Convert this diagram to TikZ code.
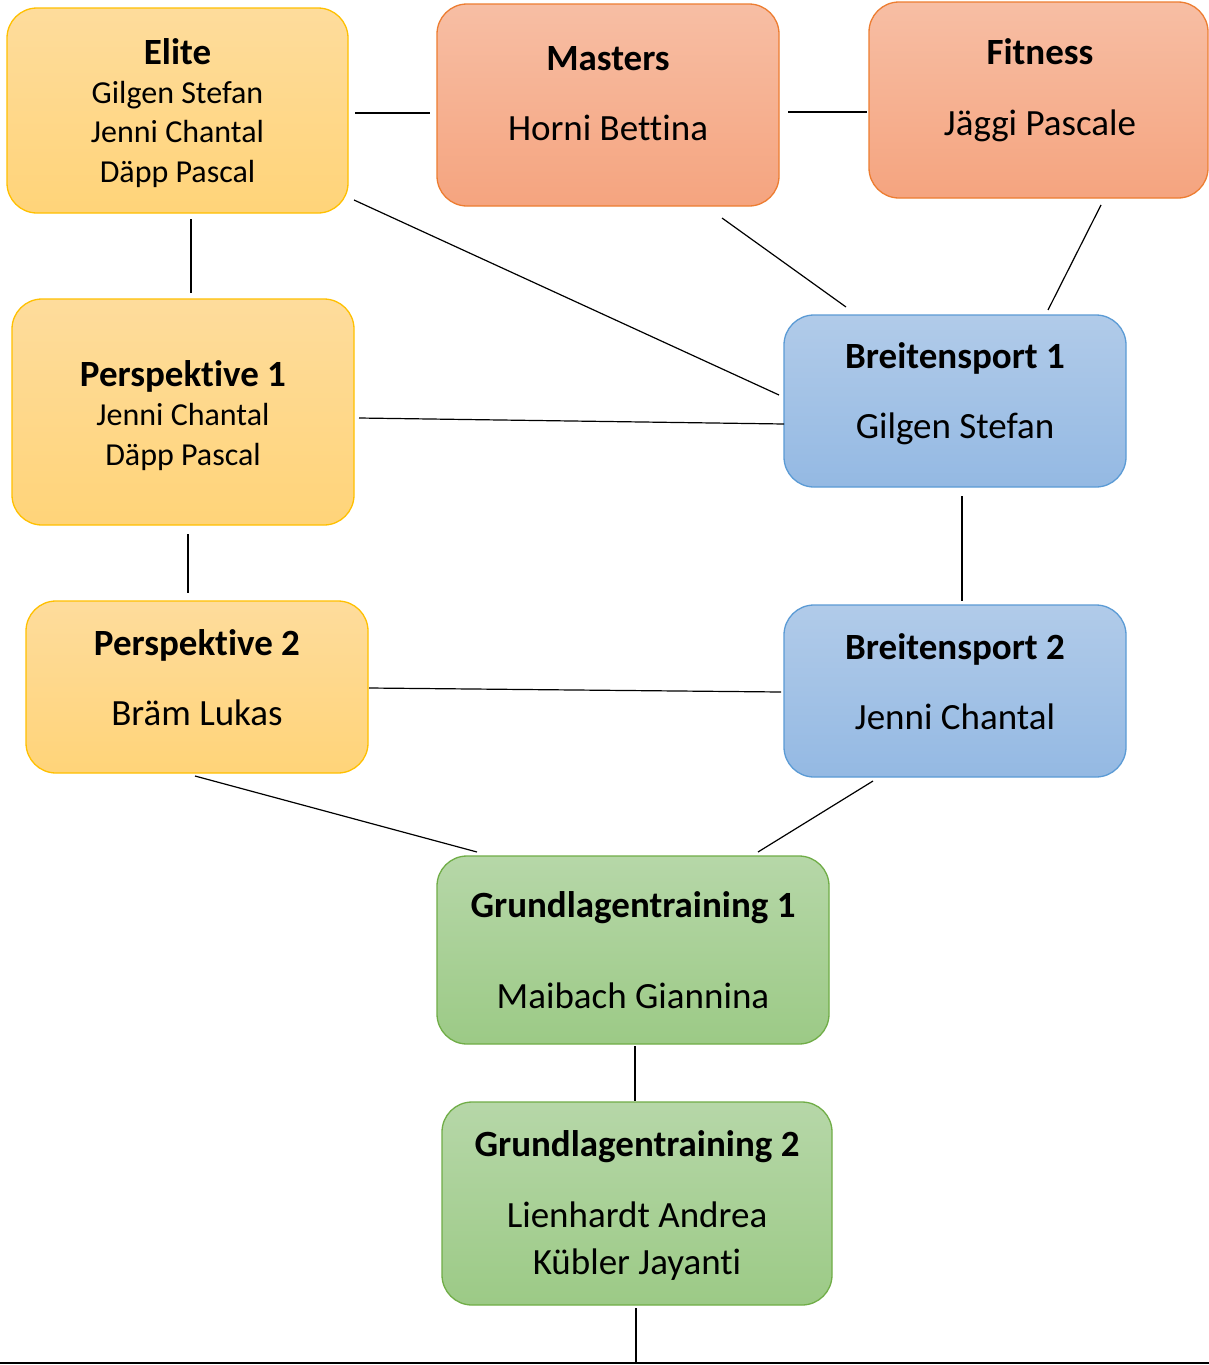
\documentclass[tikz,border=0pt]{standalone}
\usepackage{fontspec}
\setmainfont[Ligatures=NoCommon]{Carlito}
\definecolor{ytop}{HTML}{FEDC9C}
\definecolor{ybot}{HTML}{FFD479}
\definecolor{yline}{HTML}{FFC000}
\definecolor{otop}{HTML}{F7BEA4}
\definecolor{obot}{HTML}{F5A47F}
\definecolor{oline}{HTML}{ED7D31}
\definecolor{btop}{HTML}{B1CBE9}
\definecolor{bbot}{HTML}{94B9E3}
\definecolor{bline}{HTML}{5B9BD5}
\definecolor{gtop}{HTML}{B6D7A8}
\definecolor{gbot}{HTML}{9CCA86}
\definecolor{gline}{HTML}{70AD47}
\begin{document}
\begin{tikzpicture}[x=1pt,y=-1pt,
  box/.style={rounded corners=30pt, line width=1.3pt, inner sep=0pt, outer sep=0pt},
  ybox/.style={box, draw=yline, top color=ytop, bottom color=ybot},
  obox/.style={box, draw=oline, top color=otop, bottom color=obot},
  bbox/.style={box, draw=bline, top color=btop, bottom color=bbot},
  gbox/.style={box, draw=gline, top color=gtop, bottom color=gbot},
  ttl/.style={anchor=base, inner sep=0pt, font=\fontsize{37}{44}\selectfont\bfseries},
  nm/.style={anchor=base, inner sep=0pt, font=\fontsize{37}{44}\selectfont},
  snm/.style={anchor=base, inner sep=0pt, font=\fontsize{32}{39}\selectfont},
  conn/.style={line width=1.2pt, black}]
\useasboundingbox (0,0) rectangle (1209,1365);
\fill[white] (0,0) rectangle (1209,1365);

% boxes
\node[ybox, minimum width=341pt, minimum height=205pt] (elite) at (177.5,110.5) {};
\node[obox, minimum width=342pt, minimum height=202pt] (masters) at (608,105) {};
\node[obox, minimum width=339pt, minimum height=196pt] (fitness) at (1038.5,100) {};
\node[bbox, minimum width=342pt, minimum height=172pt] (breit1) at (955,401) {};
\node[ybox, minimum width=342pt, minimum height=226pt] (persp1) at (183,412) {};
\node[ybox, minimum width=342pt, minimum height=172pt] (persp2) at (197,687) {};
\node[bbox, minimum width=342pt, minimum height=172pt] (breit2) at (955,691) {};
\node[gbox, minimum width=392pt, minimum height=188pt] (gt1) at (633,950) {};
\node[gbox, minimum width=390pt, minimum height=203pt] (gt2) at (637,1203.5) {};

% texts
\node[ttl] (elite-t) at (177.5,64) {Elite};
\node[snm] (elite-a) at (177.5,103.3) {Gilgen Stefan};
\node[snm] (elite-b) at (177.5,142.7) {Jenni Chantal};
\node[snm] (elite-c) at (177.5,182.7) {Däpp Pascal};

\node[ttl] (masters-t) at (608,70) {Masters};
\node[nm] (masters-a) at (608,140) {Horni Bettina};

\node[ttl] (fitness-t) at (1040,64) {Fitness};
\node[nm] (fitness-a) at (1040,135) {Jäggi Pascale};

\node[ttl] (breit1-t) at (955,368.3) {Breitensport 1};
\node[nm] (breit1-a) at (955,438.3) {Gilgen Stefan};

\node[ttl] (persp1-t) at (183,386) {Perspektive 1};
\node[snm] (persp1-a) at (183,425) {Jenni Chantal};
\node[snm] (persp1-b) at (183,465) {Däpp Pascal};

\node[ttl] (persp2-t) at (197,655) {Perspektive 2};
\node[nm] (persp2-a) at (197,725) {Bräm Lukas};

\node[ttl] (breit2-t) at (955,659.3) {Breitensport 2};
\node[nm] (breit2-a) at (955,729.3) {Jenni Chantal};

\node[ttl] (gt1-t) at (633,917.3) {Grundlagentraining 1};
\node[nm] (gt1-a) at (633,1008.3) {Maibach Giannina};

\node[ttl] (gt2-t) at (637,1156.7) {Grundlagentraining 2};
\node[nm] (gt2-a) at (637,1227.3) {Lienhardt Andrea};
\node[nm] (gt2-b) at (637,1274) {Kübler Jayanti};

% bottom line
\coordinate (bl) at (0,1363);
\coordinate (br) at (1209,1363);
\coordinate (base) at (636,1363);
\draw[line width=2pt] (bl) -- (br);

% connectors
\draw[conn] ([shift={(7,2.5)}]elite.east) -- ([shift={(-7,8)}]masters.west);
\draw[conn] ([shift={(9,7)}]masters.east) -- ([shift={(-2,12)}]fitness.west);
\draw[conn] ([shift={(13.5,6)}]elite.south) -- ([shift={(8,-6)}]persp1.north);
\draw[conn] ([shift={(6,-13)}]elite.south east) -- ([shift={(-5,-6)}]breit1.west);
\draw[conn] ([shift={(114,12)}]masters.south) -- ([shift={(-109,-8)}]breit1.north);
\draw[conn] ([shift={(62.5,7)}]fitness.south) -- ([shift={(93,-5)}]breit1.north);
\draw[conn] ([shift={(5,6)}]persp1.east) -- ([shift={(0,23)}]breit1.west);
\draw[conn] ([shift={(5,9)}]persp1.south) -- ([shift={(-9,-8)}]persp2.north);
\draw[conn] ([shift={(7,9)}]breit1.south) -- ([shift={(7,-4)}]breit2.north);
\draw[conn] ([shift={(1,1)}]persp2.east) -- ([shift={(-3,1)}]breit2.west);
\draw[conn] ([shift={(-2,3)}]persp2.south) -- ([shift={(-156,-4)}]gt1.north);
\draw[conn] ([shift={(-82,4)}]breit2.south) -- ([shift={(125,-4)}]gt1.north);
\draw[conn] ([shift={(2,2)}]gt1.south) -- ([shift={(-2,-1)}]gt2.north);
\draw[conn] ([shift={(-1,3)}]gt2.south) -- (base);
\end{tikzpicture}
\end{document}
